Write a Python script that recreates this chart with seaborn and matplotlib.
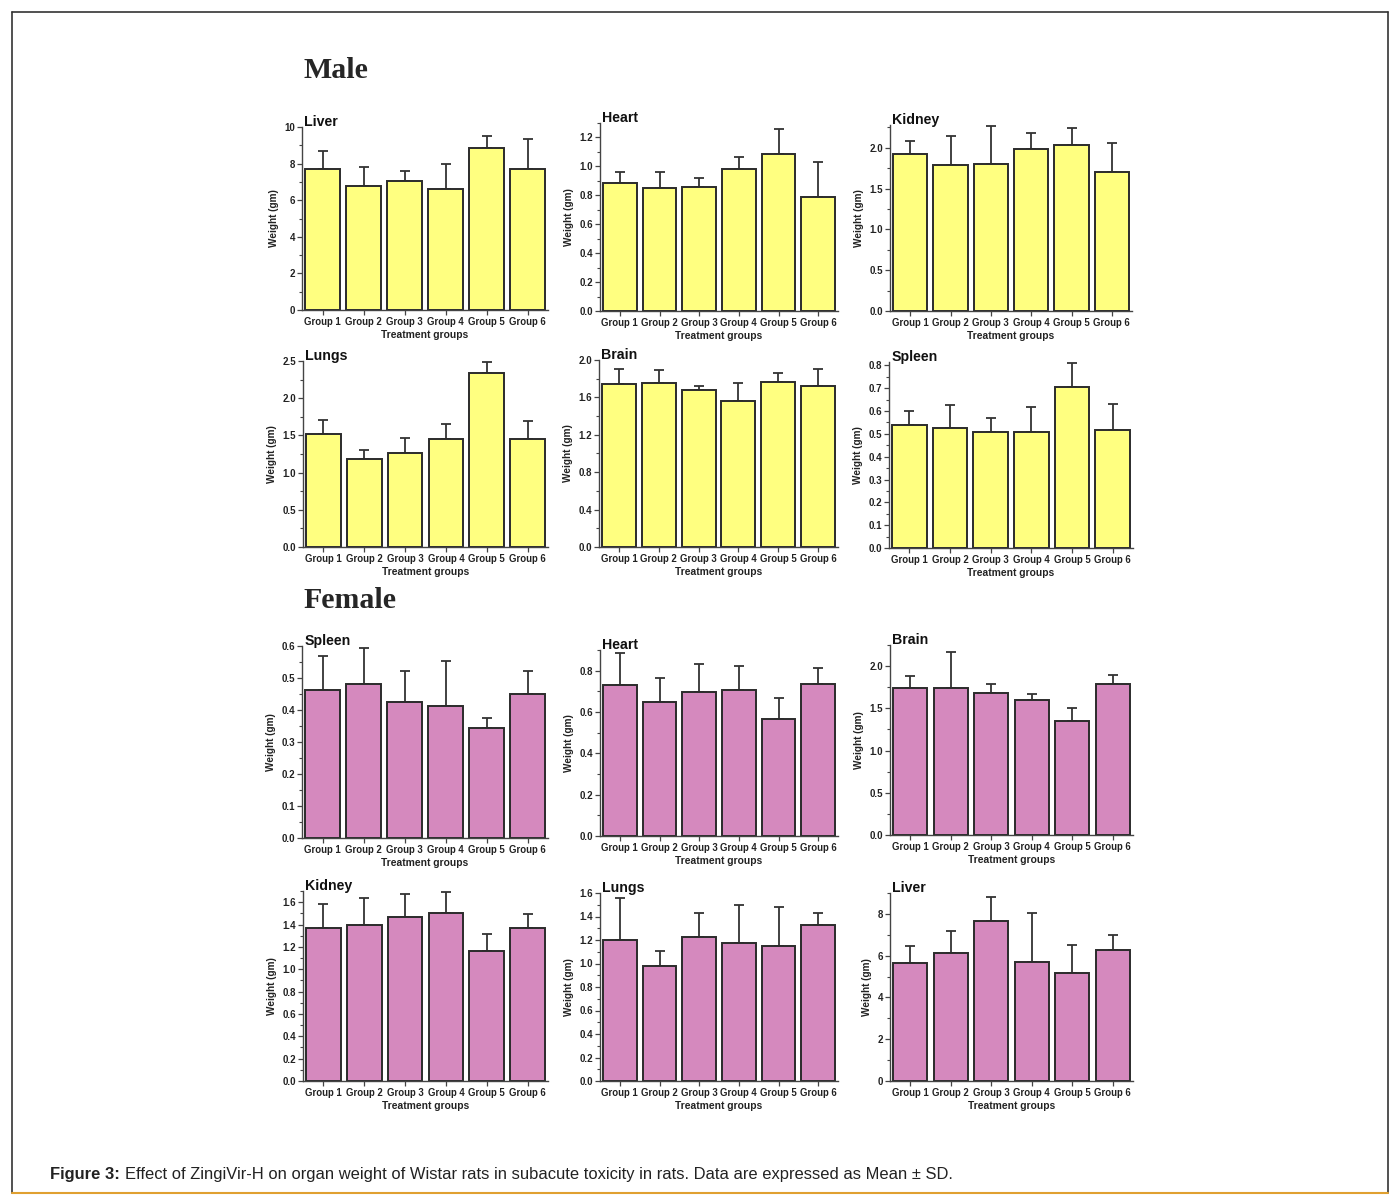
import numpy as np
import pandas as pd
import seaborn as sns
import matplotlib.pyplot as plt
from matplotlib.ticker import MultipleLocator, AutoMinorLocator
from matplotlib.lines import Line2D

groups = ["Group 1", "Group 2", "Group 3", "Group 4", "Group 5", "Group 6"]

# Male organ weights (mean, SD)
male_liver_mean = [7.73, 6.76, 7.07, 6.62, 8.87, 7.73]
male_liver_sd = [0.96, 1.06, 0.51, 1.34, 0.62, 1.63]
male_heart_mean = [0.888, 0.849, 0.855, 0.983, 1.087, 0.791]
male_heart_sd = [0.072, 0.115, 0.063, 0.081, 0.169, 0.240]
male_kidney_mean = [1.93, 1.79, 1.80, 1.98, 2.04, 1.71]
male_kidney_sd = [0.15, 0.35, 0.47, 0.20, 0.20, 0.35]
male_lungs_mean = [1.52, 1.18, 1.26, 1.455, 2.34, 1.455]
male_lungs_sd = [0.185, 0.12, 0.21, 0.20, 0.15, 0.245]
male_brain_mean = [1.743, 1.75, 1.675, 1.564, 1.764, 1.725]
male_brain_sd = [0.164, 0.14, 0.045, 0.193, 0.093, 0.175]
male_spleen_mean = [0.538, 0.524, 0.508, 0.508, 0.705, 0.519]
male_spleen_sd = [0.062, 0.104, 0.061, 0.112, 0.105, 0.114]

# Female organ weights (mean, SD)
female_spleen_mean = [0.4635, 0.481, 0.425, 0.411, 0.343, 0.451]
female_spleen_sd = [0.1045, 0.113, 0.096, 0.141, 0.032, 0.071]
female_heart_mean = [0.729, 0.648, 0.697, 0.705, 0.565, 0.734]
female_heart_sd = [0.155, 0.118, 0.135, 0.118, 0.104, 0.079]
female_brain_mean = [1.744, 1.744, 1.685, 1.598, 1.35, 1.79]
female_brain_sd = [0.138, 0.429, 0.098, 0.067, 0.158, 0.108]
female_kidney_mean = [1.366, 1.396, 1.464, 1.503, 1.167, 1.372]
female_kidney_sd = [0.217, 0.241, 0.206, 0.190, 0.151, 0.122]
female_lungs_mean = [1.198, 0.98, 1.229, 1.176, 1.15, 1.329]
female_lungs_sd = [0.36, 0.13, 0.201, 0.324, 0.33, 0.104]
female_liver_mean = [5.65, 6.13, 7.66, 5.71, 5.15, 6.27]
female_liver_sd = [0.80, 1.07, 1.14, 2.34, 1.38, 0.72]

MALE_COLOR = "#FFFF80"
FEMALE_COLOR = "#D589BE"
EDGE = "#2b2b2b"

W, H = 1398, 1198
fig = plt.figure(figsize=(W / 100, H / 100), dpi=100)
fig.patch.set_facecolor("white")

sns.set_style("white")
plt.rcParams["font.family"] = ["Liberation Sans", "DejaVu Sans"]


def px_axes(x0, y0, x1, y1):
    return fig.add_axes([x0 / W, 1 - y1 / H, (x1 - x0) / W, (y1 - y0) / H])


# (title, means, sds, colour, pixel box, ylim top, major step)
panels = [
    ("Liver", male_liver_mean, male_liver_sd, MALE_COLOR, (302, 127, 548, 310), 10.0, 2),
    ("Heart", male_heart_mean, male_heart_sd, MALE_COLOR, (600, 123, 838, 311), 1.3, 0.2),
    ("Kidney", male_kidney_mean, male_kidney_sd, MALE_COLOR, (890, 125, 1132, 311), 2.28, 0.5),
    ("Lungs", male_lungs_mean, male_lungs_sd, MALE_COLOR, (303, 361, 548, 547), 2.5, 0.5),
    ("Brain", male_brain_mean, male_brain_sd, MALE_COLOR, (599, 360, 838, 547), 2.0, 0.4),
    ("Spleen", male_spleen_mean, male_spleen_sd, MALE_COLOR, (889, 362, 1133, 548), 0.815, 0.1),
    ("Spleen", female_spleen_mean, female_spleen_sd, FEMALE_COLOR, (302, 646, 548, 838), 0.6, 0.1),
    ("Heart", female_heart_mean, female_heart_sd, FEMALE_COLOR, (600, 650, 838, 836), 0.9, 0.2),
    ("Brain", female_brain_mean, female_brain_sd, FEMALE_COLOR, (890, 645, 1133, 835), 2.25, 0.5),
    ("Kidney", female_kidney_mean, female_kidney_sd, FEMALE_COLOR, (303, 891, 548, 1081), 1.7, 0.2),
    ("Lungs", female_lungs_mean, female_lungs_sd, FEMALE_COLOR, (600, 893, 838, 1081), 1.6, 0.2),
    ("Liver", female_liver_mean, female_liver_sd, FEMALE_COLOR, (890, 893, 1133, 1081), 9.0, 2),
]

for title, means, sds, color, box, ytop, step in panels:
    ax = px_axes(*box)
    df = pd.DataFrame({"group": groups, "weight": means})
    sns.barplot(data=df, x="group", y="weight", color=color, saturation=1,
                width=0.85, edgecolor=EDGE, linewidth=1.4, errorbar=None, ax=ax)
    ax.errorbar(np.arange(len(groups)), means,
                yerr=[np.zeros(len(sds)), sds], fmt="none",
                ecolor="#333333", elinewidth=1.3, capsize=3.5, capthick=1.3,
                zorder=1)
    for p in ax.patches:
        p.set_zorder(2)
    ax.set_xlim(-0.5, 5.5)
    ax.set_ylim(0, ytop)
    ax.yaxis.set_major_locator(MultipleLocator(step))
    ax.yaxis.set_minor_locator(AutoMinorLocator(2))
    if step >= 1:
        ax.yaxis.set_major_formatter(plt.FuncFormatter(lambda v, p: f"{v:.0f}"))
    else:
        ax.yaxis.set_major_formatter(plt.FuncFormatter(lambda v, p: f"{v:.1f}"))
    for s in ("top", "right"):
        ax.spines[s].set_visible(False)
    for s in ("left", "bottom"):
        ax.spines[s].set_color("#444444")
        ax.spines[s].set_linewidth(1.0)
    ax.tick_params(axis="both", which="both", bottom=True, left=True)
    ax.tick_params(axis="both", which="major", direction="out", length=3.5,
                   width=0.9, color="#444444", pad=1.5)
    ax.tick_params(axis="x", which="major", labelsize=6.9)
    ax.tick_params(axis="y", which="major", labelsize=7.0)
    ax.tick_params(axis="y", which="minor", direction="out", length=2,
                   width=0.8, color="#444444")
    for lbl in ax.get_xticklabels() + ax.get_yticklabels():
        lbl.set_fontweight("bold")
        lbl.set_color("#222222")
    ax.set_xlabel("Treatment groups", fontsize=7.4, fontweight="bold",
                  color="#222222", labelpad=2.5)
    ax.set_ylabel("Weight (gm)", fontsize=7.2, fontweight="bold",
                  color="#222222", labelpad=4)
    ax.text(0.01, 0.99, title, transform=ax.transAxes, ha="left", va="bottom",
            fontsize=10.2, fontweight="bold", color="#111111")

# Section headings
fig.text(303 / W, 1 - 70 / H, "Male", fontsize=21.5, fontweight="bold",
         family=["Liberation Serif", "DejaVu Serif"], va="center", ha="left")
fig.text(303 / W, 1 - 601 / H, "Female", fontsize=21.5, fontweight="bold",
         family=["Liberation Serif", "DejaVu Serif"], va="center", ha="left")

# Caption
cap_y = 1 - 1175 / H
t1 = fig.text(50 / W, cap_y, "Figure 3:", fontsize=11.9, fontweight="bold",
              va="center", ha="left", color="#222222")
fig.canvas.draw()
bb = t1.get_window_extent()
fig.text((bb.x1 + 5) / W, cap_y,
         "Effect of ZingiVir-H on organ weight of Wistar rats in subacute toxicity in rats. "
         "Data are expressed as Mean \u00b1 SD.",
         fontsize=11.9, va="center", ha="left", color="#222222")

# Page frame
frame_kw = dict(transform=fig.transFigure, color="#333333", linewidth=1.2)
fig.add_artist(Line2D([12 / W, 1388 / W], [1 - 12 / H, 1 - 12 / H], **frame_kw))
fig.add_artist(Line2D([12 / W, 12 / W], [1 - 12 / H, 1 - 1193 / H], **frame_kw))
fig.add_artist(Line2D([1388 / W, 1388 / W], [1 - 12 / H, 1 - 1193 / H], **frame_kw))
fig.add_artist(Line2D([12 / W, 1388 / W], [1 - 1193 / H, 1 - 1193 / H],
                      transform=fig.transFigure, color="#E0A030", linewidth=1.5))

fig.savefig("out.png", dpi=100)
